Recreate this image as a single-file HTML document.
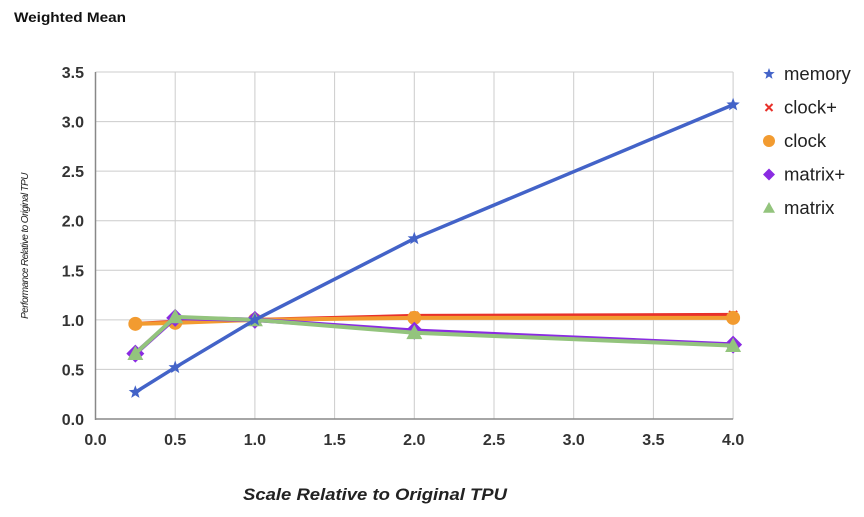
<!DOCTYPE html>
<html><head><meta charset="utf-8"><style>
body{margin:0;background:#fff;width:864px;height:512px;overflow:hidden;font-family:"Liberation Sans",sans-serif}
</style></head><body>
<svg width="864" height="512" xmlns="http://www.w3.org/2000/svg">
<text x="14" y="22" font-size="14" font-weight="bold" fill="#111" textLength="112" lengthAdjust="spacingAndGlyphs">Weighted Mean</text>
<g id="grid"></g>
<g id="axes"></g>
<g id="series"></g>
<g id="legend"></g>
<text x="243" y="500" font-size="17" font-weight="bold" font-style="italic" fill="#222" textLength="264" lengthAdjust="spacingAndGlyphs">Scale Relative to Original TPU</text>
<text transform="translate(28,246) rotate(-90)" text-anchor="middle" font-size="10" font-style="italic" fill="#222" letter-spacing="-0.6">Performance Relative to Original TPU</text>
</svg>
<script>
const xCats=[0.25,0.5,1,2,4];
const memory=[0.27,0.52,1.0,1.82,3.17];
const clockPlus=[0.96,0.98,1.0,1.04,1.05];
const clock=[0.96,0.97,1.0,1.02,1.02];
const matrixPlus=[0.66,1.02,1.0,0.89,0.75];
const matrix=[0.66,1.03,1.0,0.87,0.74];
const xTicks=["0.0","0.5","1.0","1.5","2.0","2.5","3.0","3.5","4.0"];
const yTicks=["0.0","0.5","1.0","1.5","2.0","2.5","3.0","3.5"];
const NS="http://www.w3.org/2000/svg";
const X=v=>95.5+v*159.4, Y=v=>419-v*99.14;
function mk(t,a,p){const e=document.createElementNS(NS,t);for(const k in a)e.setAttribute(k,a[k]);p.appendChild(e);return e;}
const g=document.getElementById('grid'),ax=document.getElementById('axes'),s=document.getElementById('series'),lg=document.getElementById('legend');
xTicks.forEach(t=>{const v=parseFloat(t);
 if(v>0){const l=mk('line',{x1:X(v),x2:X(v),y1:Y(3.5),y2:Y(0),stroke:'#ccc','stroke-width':1},g);}
 const tx=mk('text',{x:X(v),y:445,'text-anchor':'middle','font-size':16,'font-weight':'bold',fill:'#333'},ax);tx.textContent=t;
 });
yTicks.forEach(t=>{const v=parseFloat(t);
 if(v>0){const l=mk('line',{x1:X(0),x2:X(4),y1:Y(v),y2:Y(v),stroke:'#ccc','stroke-width':1},g);}
 const tx=mk('text',{x:84,y:Y(v)+6,'text-anchor':'end','font-size':16,'font-weight':'bold',fill:'#333'},ax);tx.textContent=t;
 });
let a1=mk('line',{x1:X(0),x2:X(0),y1:Y(3.5),y2:Y(0)+1,stroke:'#888','stroke-width':1.5},ax);
let a2=mk('line',{x1:X(0),x2:X(4),y1:Y(0),y2:Y(0),stroke:'#888','stroke-width':1.5},ax);
function marker(type,x,y,c,p,sz){
 if(type==='star'){let pts=[];for(let i=0;i<10;i++){const r=i%2?sz*0.42:sz,a=-Math.PI/2+i*Math.PI/5;pts.push((x+r*Math.cos(a)).toFixed(1)+','+(y+r*Math.sin(a)).toFixed(1));}return mk('polygon',{points:pts.join(' '),fill:c},p);}
 if(type==='x'){const gg=mk('g',{},p);mk('path',{d:`M${x-sz} ${y-sz}L${x+sz} ${y+sz}M${x+sz} ${y-sz}L${x-sz} ${y+sz}`,stroke:c,'stroke-width':2},gg);return gg;}
 if(type==='circle')return mk('circle',{cx:x,cy:y,r:sz,fill:c},p);
 if(type==='diamond')return mk('polygon',{points:`${x},${y-sz} ${x+sz},${y} ${x},${y+sz} ${x-sz},${y}`,fill:c},p);
 if(type==='tri')return mk('polygon',{points:`${x},${y-sz} ${x+sz},${y+sz*0.8} ${x-sz},${y+sz*0.8}`,fill:c},p);}
const defs=[
 {n:'matrix',d:matrix,c:'#93c47d',m:'tri',w:4,sz:8},
 {n:'matrix+',d:matrixPlus,c:'#8a2be2',m:'diamond',w:4.5,sz:9},
 {n:'clock',d:clock,c:'#f29b30',m:'circle',w:4,sz:7},
 {n:'clock+',d:clockPlus,c:'#e8312a',m:'x',w:4,sz:4},
 {n:'memory',d:memory,c:'#4363c8',m:'star',w:3.5,sz:7}];
const drawOrder=[3,2,1,0,4];
drawOrder.forEach(i=>{const d=defs[i];const gg=mk('g',{},s);
 
 const pl=mk('polyline',{points:xCats.map((x,j)=>X(x)+','+Y(d.d[j])).join(' '),fill:'none',stroke:d.c,'stroke-width':d.w,'stroke-linejoin':'round'},gg);
 
 xCats.forEach((x,j)=>{const mm=marker(d.m,X(x),Y(d.d[j]),d.c,gg,d.sz);
  });});
const legOrder=[4,3,2,1,0];
legOrder.forEach((i,k)=>{const d=defs[i];const y=74+k*33.5;const gg=mk('g',{},lg);
 
 marker(d.m,769,y,d.c,gg,d.m==='x'?3.5:6);
 const t=mk('text',{x:784,y:y+6,'font-size':18.5,fill:'#222'},gg);t.textContent=d.n;});
</script>
</body></html>
